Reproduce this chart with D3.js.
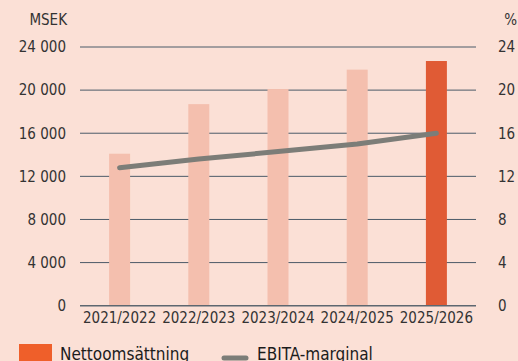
<!DOCTYPE html>
<html>
<head>
<meta charset="utf-8">
<script src="https://cdn.jsdelivr.net/npm/d3@7"></script>
<style>
  html, body { margin: 0; padding: 0; background: #fbe0d6; }
  svg { display: block; font-family: "DejaVu Sans Condensed", "DejaVu Sans", sans-serif; }
</style>
</head>
<body>
<svg id="chart" width="518" height="361"></svg>
<script>
// Net sales (MSEK) per financial year and EBITA margin (%)
const years = ["2021/2022", "2022/2023", "2023/2024", "2024/2025", "2025/2026"];
const netSales = [14100, 18700, 20100, 21900, 22700];
const ebitaMargin = [12.8, 13.6, 14.3, 15.0, 16.0];
const leftTicks = [0, 4000, 8000, 12000, 16000, 20000, 24000];
const rightTicks = [0, 4, 8, 12, 16, 20, 24];
const highlightYear = "2025/2026";

const svg = d3.select("#chart");
const W = 518, H = 361;
const plot = { left: 80, right: 476, top: 47, bottom: 305.7 };

const x = d3.scaleBand().domain(years).range([plot.left, plot.right]).paddingInner(0.735).paddingOuter(0.3675);
const yL = d3.scaleLinear().domain([0, 24000]).range([plot.bottom, plot.top]);
const yR = d3.scaleLinear().domain([0, 24]).range([plot.bottom, plot.top]);

svg.append("rect").attr("width", W).attr("height", H).attr("fill", "#fbe0d6");

const fmt = d => d3.format(",")(d).replace(/,/g, " ");

// horizontal grid
svg.append("g")
  .selectAll("line")
  .data(leftTicks.filter(d => d > 0))
  .join("line")
  .attr("x1", plot.left).attr("x2", plot.right)
  .attr("y1", d => yL(d)).attr("y2", d => yL(d))
  .attr("stroke", "#4b5a68").attr("stroke-width", 1);

// bars
svg.append("g")
  .selectAll("rect")
  .data(years)
  .join("rect")
  .attr("x", d => x(d))
  .attr("width", x.bandwidth())
  .attr("y", (d, i) => yL(netSales[i]))
  .attr("height", (d, i) => yL(0) - yL(netSales[i]))
  .attr("fill", d => d === highlightYear ? "#e05b35" : "#f4bfae");

// baseline
svg.append("line")
  .attr("x1", plot.left).attr("x2", plot.right)
  .attr("y1", yL(0)).attr("y2", yL(0))
  .attr("stroke", "#5d6770").attr("stroke-width", 1.6);

// left axis
const leftAxis = d3.axisLeft(yL).tickValues(leftTicks).tickFormat(fmt).tickSize(0).tickPadding(14);
const gL = svg.append("g").attr("transform", `translate(${plot.left},0)`).call(leftAxis);
gL.select(".domain").remove();
gL.selectAll("text").attr("font-size", 15).attr("fill", "#333").attr("font-family", "DejaVu Sans Condensed, DejaVu Sans, sans-serif");

// right axis
const rightAxis = d3.axisRight(yR).tickValues(rightTicks).tickSize(0).tickPadding(22);
const gR = svg.append("g").attr("transform", `translate(${plot.right},0)`).call(rightAxis);
gR.select(".domain").remove();
gR.selectAll("text").attr("font-size", 15).attr("fill", "#333").attr("font-family", "DejaVu Sans Condensed, DejaVu Sans, sans-serif");

// bottom axis
const bottomAxis = d3.axisBottom(x).tickSize(0).tickPadding(7);
const gB = svg.append("g").attr("transform", `translate(0,${plot.bottom})`).call(bottomAxis);
gB.select(".domain").remove();
gB.selectAll("text").attr("font-size", 15).attr("fill", "#333").attr("font-family", "DejaVu Sans Condensed, DejaVu Sans, sans-serif");

// axis units
svg.append("text").attr("x", 67).attr("y", 25).attr("text-anchor", "end")
  .attr("font-size", 15).attr("fill", "#333").text("MSEK");
svg.append("text").attr("x", 517).attr("y", 25).attr("text-anchor", "end")
  .attr("font-size", 15).attr("fill", "#333").text("%");

// EBITA margin line
const line = d3.line()
  .x((d, i) => x(years[i]) + x.bandwidth() / 2)
  .y(d => yR(d));
svg.append("path")
  .datum(ebitaMargin)
  .attr("d", line)
  .attr("fill", "none")
  .attr("stroke", "#7c7d78")
  .attr("stroke-width", 5)
  .attr("stroke-linecap", "round")
  .attr("stroke-linejoin", "round");

// legend
const lg = svg.append("g");
lg.append("rect").attr("x", 19).attr("y", 344).attr("width", 33).attr("height", 20).attr("fill", "#ef5f2a");
lg.append("text").attr("x", 60).attr("y", 360).attr("font-size", 17).attr("fill", "#1c1c1c").text("Nettoomsättning");
lg.append("line").attr("x1", 224).attr("x2", 246).attr("y1", 358).attr("y2", 358)
  .attr("stroke", "#7c7d78").attr("stroke-width", 5).attr("stroke-linecap", "round");
lg.append("text").attr("x", 257).attr("y", 360).attr("font-size", 17).attr("fill", "#1c1c1c").text("EBITA-marginal");
</script>
</body>
</html>
